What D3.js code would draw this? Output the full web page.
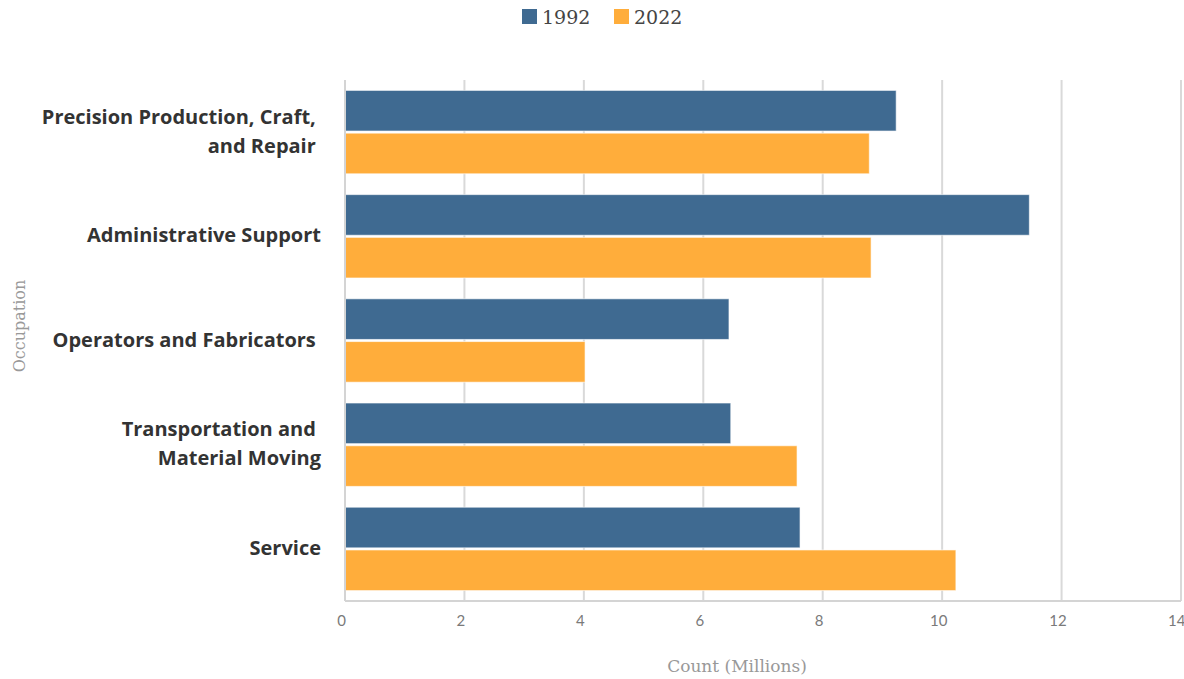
<!DOCTYPE html>
<html>
<head>
<meta charset="utf-8">
<script src="https://cdn.jsdelivr.net/npm/d3@7"></script>
<style>
  body { margin: 0; background: #fff; }
</style>
</head>
<body>
<svg id="chart"></svg>
<script>
const w = 1184;
const h = 679;
const margin = {top: 80, right: 3, bottom: 78, left: 345};

// data
const occupations = [
  ['Precision Production, Craft, ', 'and Repair '],
  ['Administrative Support'],
  ['Operators and Fabricators '],
  ['Transportation and ', 'Material Moving'],
  ['Service']
];
const seriesNames = ['1992', '2022'];
const values1992 = [9.23, 11.46, 6.43, 6.46, 7.62];
const values2022 = [8.78, 8.81, 4.02, 7.57, 10.23];
const xTicks = [0, 2, 4, 6, 8, 10, 12, 14];

const colors = ['#3f6a91', '#ffad3b'];

const svg = d3.select('#chart')
  .attr('width', w)
  .attr('height', h);

const x = d3.scaleLinear()
  .domain([0, 14])
  .range([margin.left, w - margin.right]);

const y = d3.scaleBand()
  .domain(d3.range(occupations.length))
  .range([margin.top, h - margin.bottom])
  .paddingInner(0.2)
  .paddingOuter(0.1);

const ySub = d3.scaleBand()
  .domain(seriesNames)
  .range([0, y.bandwidth()])
  .paddingInner(0.05);

//gridlines
svg.append('g')
  .selectAll('line')
  .data(xTicks.slice(1))
  .enter()
  .append('line')
    .attr('x1', d => x(d))
    .attr('x2', d => x(d))
    .attr('y1', margin.top)
    .attr('y2', h - margin.bottom)
    .attr('stroke', '#d9d9d9')
    .attr('stroke-width', 2);

//bars
const rows = occupations.map((d, i) => ({i: i, vals: [values1992[i], values2022[i]]}));
const groups = svg.selectAll('g.row')
  .data(rows)
  .enter()
  .append('g')
    .attr('class', 'row')
    .attr('transform', d => `translate(0,${y(d.i)})`);

groups.selectAll('rect')
  .data(d => d.vals.map((v, k) => ({v: v, k: k})))
  .enter()
  .append('rect')
    .attr('x', x(0))
    .attr('y', d => ySub(seriesNames[d.k]))
    .attr('width', d => x(d.v) - x(0))
    .attr('height', ySub.bandwidth())
    .attr('fill', d => colors[d.k])
    .attr('stroke', '#ffffff')
    .attr('stroke-opacity', 0.6)
    .attr('stroke-width', 1);

//axis lines
svg.append('line')
  .attr('x1', x(0)).attr('x2', x(14))
  .attr('y1', h - margin.bottom).attr('y2', h - margin.bottom)
  .attr('stroke', '#d4d4d4').attr('stroke-width', 2);
svg.append('line')
  .attr('x1', x(0)).attr('x2', x(0))
  .attr('y1', margin.top).attr('y2', h - margin.bottom)
  .attr('stroke', '#d4d4d4').attr('stroke-width', 2);

//x tick labels
const xAxis = svg.append('g')
  .attr('transform', `translate(-4,${h - margin.bottom + 11})`)
  .call(d3.axisBottom(x).tickValues(xTicks).tickSize(0).tickFormat(d3.format('d')));
xAxis.select('.domain').remove();
xAxis.selectAll('text')
  .style('font-family', 'Lato, sans-serif')
  .style('font-weight', 400)
  .style('font-size', '15px')
  .attr('fill', '#7a7a7a')
  .style('text-anchor', d => d === 14 ? 'end' : 'middle')
  .attr('dx', d => d === 14 ? 8 : 0);

//y category labels
const labels = svg.selectAll('text.cat')
  .data(occupations)
  .enter()
  .append('text')
    .attr('class', 'cat')
    .attr('x', 321)
    .attr('y', (d, i) => y(i) + y.bandwidth() / 2 - (d.length - 1) * 14.5 + 6)
    .style('text-anchor', 'end')
    .style('font-family', '"Open Sans", sans-serif')
    .style('font-weight', 'bold')
    .style('font-size', '20px')
    .style('white-space', 'pre')
    .attr('fill', '#333');
labels.selectAll('tspan')
  .data(d => d)
  .enter()
  .append('tspan')
    .attr('x', 321)
    .attr('dy', (d, i) => i === 0 ? 0 : 29)
    .text(d => d);

//axis titles
svg.append('text')
  .attr('x', (x(0) + x(14)) / 2 - 26)
  .attr('y', 672)
  .style('text-anchor', 'middle')
  .style('font-family', '"DejaVu Serif", serif')
  .style('font-size', '17px')
  .attr('fill', '#999')
  .text('Count (Millions)');

svg.append('text')
  .attr('transform', 'translate(25,326) rotate(-90)')
  .style('text-anchor', 'middle')
  .style('font-family', '"DejaVu Serif", serif')
  .style('font-size', '16px')
  .attr('fill', '#999')
  .text('Occupation');

//legend
const legendX = [522, 614];
const legend = svg.selectAll('g.legend')
  .data(seriesNames)
  .enter()
  .append('g')
    .attr('class', 'legend')
    .attr('transform', (d, i) => `translate(${legendX[i]},9)`);
legend.append('rect')
  .attr('width', 15)
  .attr('height', 15)
  .attr('fill', (d, i) => colors[i]);
legend.append('text')
  .attr('x', 20)
  .attr('y', 15)
  .style('font-family', '"DejaVu Serif", serif')
  .style('font-size', '19px')
  .attr('fill', '#444')
  .text(d => d);
</script>
</body>
</html>
